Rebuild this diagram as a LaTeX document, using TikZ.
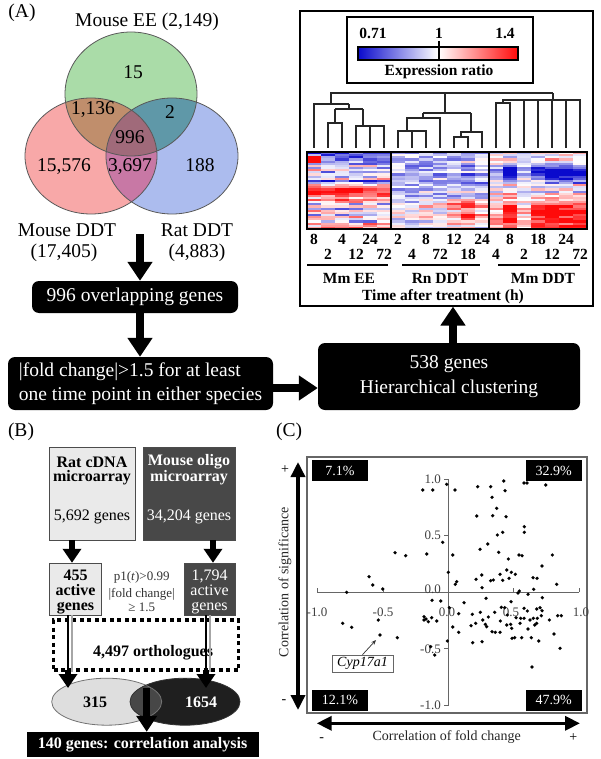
\documentclass[tikz,border=0pt]{standalone}
\usepackage{fontspec}
\setmainfont{Liberation Serif}
\usetikzlibrary{arrows.meta}
\newcommand\myfbig{\fontsize{19.5pt}{24pt}\selectfont}
\newcommand\myfbigl{\fontsize{19.5pt}{24.5pt}\selectfont}
\newcommand\myfhm{\fontsize{15.5pt}{18pt}\selectfont\bfseries}
\newcommand\myfb{\fontsize{16pt}{19pt}\selectfont}
\newcommand\myfbt{\fontsize{16pt}{15pt}\selectfont}
\newcommand\myfs{\fontsize{13pt}{15pt}\selectfont}
\newcommand\myfc{\fontsize{14pt}{17pt}\selectfont}
\definecolor{vG}{RGB}{170,220,168}
\definecolor{vR}{RGB}{248,168,168}
\definecolor{vB}{RGB}{172,188,238}
\definecolor{vGR}{RGB}{192,142,108}
\definecolor{vGB}{RGB}{95,152,168}
\definecolor{vRB}{RGB}{200,120,165}
\definecolor{vGRB}{RGB}{160,106,122}
\definecolor{hb}{RGB}{10,10,205}
\definecolor{hr}{RGB}{255,10,10}
\definecolor{mgray}{RGB}{72,72,72}
\definecolor{lgray}{RGB}{234,234,234}
\newcommand\heatpanel[5]{%
 \foreach \r in {0,...,35}{%
  \foreach \c in {0,...,#2}{%
   \pgfmathsetmacro\hv{max(-1,min(1,#3+#4[\r]*#5[\c]+0.35*rand))}%
   \pgfmathsetmacro\hp{abs(\hv)*100}%
   \ifdim\hv pt<0pt \colorlet{cellc}{hb!\hp!white}\else\colorlet{cellc}{hr!\hp!white}\fi
   \fill[cellc] (#1+14*\c,152+2.14*\r) rectangle ++(14.3,2.4);
  }}}
\begin{document}
\begin{tikzpicture}[x=1pt,y=-1pt,
  txt/.style={inner sep=0pt, outer sep=0pt},
  flowbox/.style={fill=black, text=white, rounded corners=7pt, inner sep=0pt, font=\myfbig},
  fArrow/.style={line width=8pt, -{Triangle[width=24pt,length=19pt]}},
  bArrow/.style={line width=6pt, -{Triangle[width=18pt,length=14pt]}},
  dendro/.style={line width=1.1pt, black!85},
  vline/.style={draw=black!65, line width=0.8pt},
  axisc/.style={draw=black!60, line width=0.9pt},
  ticklab/.style={inner sep=0pt, font=\myfs, text=black!75},
  dblarrow/.style={line width=3.5pt, {Triangle[width=14pt,length=15pt]}-{Triangle[width=14pt,length=15pt]}},
  qbox/.style={fill=black, text=white, inner sep=0pt, minimum width=56.6pt, minimum height=21pt, font=\myfc},
  hlab/.style={inner sep=0pt, font=\myfhm},
]
\useasboundingbox (0,0) rectangle (600,759);
\fill[white] (0,0) rectangle (600,759);

% ---------------- Venn -----------------
\def\pG{(131,94) ellipse [x radius=66, y radius=62]}
\def\pR{(91,156) ellipse [x radius=66, y radius=58]}
\def\pB{(172,156) ellipse [x radius=66, y radius=58]}
\fill[vR] \pR;
\fill[vB] \pB;
\fill[vG] \pG;
\begin{scope}\clip \pG; \fill[vGR] \pR; \end{scope}
\begin{scope}\clip \pG; \fill[vGB] \pB; \end{scope}
\begin{scope}\clip \pR; \fill[vRB] \pB; \end{scope}
\begin{scope}\clip \pG; \clip \pR; \fill[vGRB] \pB; \end{scope}
\draw[vline] \pR;
\draw[vline] \pB;
\draw[vline] \pG;

\node[txt, font=\myfbig] (lA) at (22,13) {(A)};
\node[txt, font=\myfbig] (lEE) at (147,22) {Mouse EE (2,149)};
\node[txt, font=\myfbig] (n15) at (133,72) {15};
\node[txt, font=\myfbig] (n1136) at (93,110) {1,136};
\node[txt, font=\myfbig] (n2) at (170,112) {2};
\node[txt, font=\myfbig] (n996) at (130,137) {996};
\node[txt, font=\myfbig] (n15576) at (64,167) {15,576};
\node[txt, font=\myfbig] (n3697) at (130,167) {3,697};
\node[txt, font=\myfbig] (n188) at (200,165) {188};
\node[txt, font=\myfbig] (lMD) at (67,230) {Mouse DDT};
\node[txt, font=\myfbig] (lMD2) at (64,253) {(17,405)};
\node[txt, font=\myfbig] (lRD) at (197,230) {Rat DDT};
\node[txt, font=\myfbig] (lRD2) at (197,253) {(4,883)};

% ---------------- flow (A) -----------------
\coordinate (vennbot) at (140,234);
\node[flowbox, minimum width=206pt, minimum height=32pt] (b996) at (135,297) {996 overlapping genes};
\draw[fArrow] (vennbot) -- (vennbot |- b996.north);
\node[flowbox, minimum width=265pt, minimum height=53pt, align=left, font=\myfbigl] (fold) at (140.5,383.5) {|fold change|>1.5 for at least\\one time point in either species};
\draw[fArrow] (b996.south -| vennbot) -- (fold.north -| vennbot);
\node[flowbox, minimum width=262pt, minimum height=67pt, align=center, font=\myfbigl] (b538) at (449,376.5) {538 genes\\Hierarchical clustering};
\coordinate (arry) at (0,388);
\draw[fArrow] (fold.east |- arry) -- (b538.west |- arry);

% ---------------- heatmap box -----------------
\node[draw, line width=1.2pt, minimum width=293pt, minimum height=295pt, inner sep=0pt] (hbox) at (446.5,158.5) {};
\coordinate (arrx) at (453,0);
\draw[fArrow] (b538.north -| arrx) -- (hbox.south -| arrx);

% colour key
\node[draw, line width=1.2pt, minimum width=186pt, minimum height=66pt, inner sep=0pt] (keybox) at (440,50) {};
\shade[left color=hb, right color=hr, middle color=white] (358,47) rectangle (518,60);
\draw[line width=1.2pt] (358,47) rectangle (518,60);
\draw[line width=1.2pt] (439,41) -- (439,60);
\node[hlab] (k1) at (373,33) {0.71};
\node[hlab] (k2) at (439,33) {1};
\node[hlab] (k3) at (505,33) {1.4};
\node[hlab] (k4) at (439,72) {Expression ratio};

% heat cells
\pgfmathsetseed{12}
\def\rowsEE{{-0.8,-0.6,-0.7,-0.6,-0.4,-0.5,0.0,-0.3,0.2,-0.4,0.1,-0.2,0.2,-0.8,-0.3,0.2,0.5,0.8,0.9,0.8,0.5,0.2,0.6,0.3,-0.3,0.0,-0.5,0.3,0.1,-0.4,0.3,0.0,-0.3,0.4,0.2,0.5}}
\def\colsEE{{1,1,1,1,1,1}}
\def\rowsRn{{0,0.1,-0.1,0,0.2,0,-0.1,0.1,0,0.2,-0.2,0,0.1,0,-0.3,0.1,0,0.2,0.3,0.1,0,0.2,0.4,0.6,0.9,1.0,0.7,0.5,0.8,1.1,1.0,0.6,0.5,0.7,0.4,0.3}}
\def\colsRn{{0.3,0.2,0.5,0.4,0.9,1.2,0.8}}
\def\rowsMm{{0.1,0,-0.2,0.2,0,-0.2,-0.4,-0.8,-1.2,-1.3,-1.2,-1.0,-0.8,-0.3,-0.5,0.2,-0.1,0.2,-0.2,0.3,0.0,0.3,0.1,0.5,0.6,0.8,1.0,1.1,1.2,1.0,0.9,1.1,1.0,0.8,0.9,0.7}}
\def\colsMm{{0.3,1,0.2,0.8,1.1,1,1}}
\heatpanel{307}{5}{0}{\rowsEE}{\colsEE}
\heatpanel{391}{6}{-0.3}{\rowsRn}{\colsRn}
\heatpanel{489}{6}{0}{\rowsMm}{\colsMm}
\fill[hr] (307,156) rectangle (321,163);
\draw[line width=2pt] (307,152) rectangle (391,229);
\draw[line width=2pt] (391,152) rectangle (489,229);
\draw[line width=2pt] (489,152) rectangle (587,229);

% dendrogram
\draw[dendro] (328,148) -- (328,123) -- (342,123) -- (342,148);
\draw[dendro] (335,123) -- (335,109);
\draw[dendro] (356,148) -- (356,126) -- (384,126) -- (384,148);
\draw[dendro] (370,148) -- (370,126);
\draw[dendro] (363,126) -- (363,109);
\draw[dendro] (335,109) -- (363,109);
\draw[dendro] (349,109) -- (349,104);
\draw[dendro] (314,148) -- (314,104) -- (349,104);
\draw[dendro] (331,104) -- (331,93) -- (553,93);
\draw[dendro] (398,148) -- (398,131) -- (426,131) -- (426,148);
\draw[dendro] (412,148) -- (412,131);
\draw[dendro] (407,131) -- (407,118) -- (440,118) -- (440,148);
\draw[dendro] (423,118) -- (423,113);
\draw[dendro] (454,148) -- (454,137) -- (468,137) -- (468,148);
\draw[dendro] (461,137) -- (461,132) -- (482,132) -- (482,148);
\draw[dendro] (471,132) -- (471,113);
\draw[dendro] (423,113) -- (471,113);
\draw[dendro] (445,113) -- (445,93);
\draw[dendro] (496,148) -- (496,103) -- (510,103) -- (510,148);
\draw[dendro] (503,103) -- (503,100) -- (580,100) -- (580,148);
\foreach \lx in {524,538,552,566} \draw[dendro] (\lx,100) -- (\lx,148);
\draw[dendro] (553,100) -- (553,93);

% time labels
\foreach \lx/\lt [count=\i] in {314/8,342/4,370/24,398/2,426/8,454/12,482/24,510/8,538/18,566/24}
  \node[hlab] (ta\i) at (\lx,239) {\lt};
\foreach \lx/\lt [count=\i] in {328/2,356/12,384/72,412/4,440/72,468/18,496/4,524/2,552/12,580/72}
  \node[hlab] (tb\i) at (\lx,254) {\lt};
\draw[line width=1.2pt] (307,265) -- (388,265);
\draw[line width=1.2pt] (402,265) -- (480,265);
\draw[line width=1.2pt] (498,265) -- (580,265);
\node[hlab] (g1) at (349,278) {Mm EE};
\node[hlab] (g2) at (440,278) {Rn DDT};
\node[hlab] (g3) at (543,278) {Mm DDT};
\node[hlab] (g4) at (443,297) {Time after treatment (h)};

% ---------------- panel B -----------------
\node[txt, font=\myfbig] (lB) at (21,432) {(B)};
\node[draw=black!70, fill=lgray, minimum width=86pt, minimum height=93pt, inner sep=0pt] (rat) at (92,493.5) {};
\node[draw=black!70, fill=mgray, minimum width=92pt, minimum height=93pt, inner sep=0pt] (mouse) at (189,493.5) {};
\node[txt, font=\myfb\bfseries] (rt1) at (92,462) {Rat cDNA};
\node[txt, font=\myfb\bfseries] (rt2) at (92,478) {microarray};
\node[txt, font=\myfb] (rt3) at (92,517) {5,692 genes};
\node[txt, font=\myfb\bfseries, text=white] (mt1) at (189,462) {Mouse oligo};
\node[txt, font=\myfb\bfseries, text=white] (mt2) at (189,478) {microarray};
\node[txt, font=\myfb, text=white] (mt3) at (189,517) {34,204 genes};

\node[draw=black!70, fill=lgray, minimum width=52pt, minimum height=52pt, inner sep=0pt] (a455) at (75.5,589) {};
\node[draw=black!70, fill=mgray, minimum width=51pt, minimum height=52pt, inner sep=0pt] (a1794) at (209.5,589) {};
\node[txt, font=\myfbt\bfseries, align=center] (t455) at (75.5,592) {455\\active\\genes};
\node[txt, font=\myfbt, align=center, text=white] (t1794) at (209.5,592) {1,794\\active\\genes};
\coordinate (bx1) at (72,0);
\coordinate (bx2) at (213,0);
\draw[bArrow] (rat.south -| bx1) -- (a455.north -| bx1);
\draw[bArrow] (mouse.south -| bx2) -- (a1794.north -| bx2);
\node[txt, font=\myfs, text=black!80] (mid1) at (141.7,577) {p1(\textit{t})>0.99};
\node[txt, font=\myfs, text=black!80] (mid2) at (141.7,594) {|fold change|};
\node[txt, font=\myfs, text=black!80] (mid3) at (141.7,607.5) {≥ 1.5};

\node[draw, line width=3.5pt, dash pattern=on 4pt off 3.5pt, minimum width=185pt, minimum height=50pt, inner sep=0pt] (orth) at (146,645) {};
\node[txt, font=\myfb\bfseries] (torth) at (153,653) {4,497 orthologues};

% ellipses
\def\pEL{(106.7,701.7) ellipse [x radius=55, y radius=23.5]}
\def\pER{(185,701.7) ellipse [x radius=55, y radius=23.5]}
\fill[black!13] \pEL;
\fill[black!88] \pER;
\begin{scope}\clip \pEL; \fill[black!72] \pER; \end{scope}
\draw[black!55, line width=0.8pt] \pEL;
\draw[black!80, line width=0.8pt] \pER;
\node[txt, font=\myfb\bfseries] (e315) at (95,702) {315};
\node[txt, font=\myfb\bfseries, text=white] (e1654) at (201,702) {1654};
\coordinate (elL) at (68,688);
\coordinate (elR) at (206,688);
\draw[black!35, line width=2.5pt] (a455.south -| 72,0) -- (72,672);
\draw[line width=1.3pt] (a455.south -| elL) -- (68,672);
\draw[bArrow] (68,670) -- (elL);
\draw[black!35, line width=2.5pt] (a1794.south -| 210,0) -- (210,672);
\draw[line width=1.3pt] (a1794.south -| elR) -- (206,672);
\draw[bArrow] (206,670) -- (elR);

\node[fill=black, text=white, minimum width=232pt, minimum height=25pt, inner sep=0pt, font=\myfb\bfseries] (b140) at (142.5,744.5) {140 genes: correlation analysis};
\coordinate (lens) at (146.7,688);
\draw[line width=7pt, -{Triangle[width=20pt,length=16pt]}] (lens) -- (b140.north -| lens);

% ---------------- panel C -----------------
\node[txt, font=\myfbig] (lC) at (289,432) {(C)};
\node[draw=black!60, line width=1.2pt, minimum width=280pt, minimum height=256pt, inner sep=0pt] (cframe) at (447,585) {};
\node[qbox] (q1) at (340,470.5) {7.1\%};
\node[qbox] (q2) at (553.8,470.5) {32.9\%};
\node[qbox] (q3) at (340,700) {12.1\%};
\node[qbox] (q4) at (553.8,700) {47.9\%};

\draw[axisc] (448.3,479) -- (448.3,705.5);
\draw[axisc] (317.3,592.3) -- (579.3,592.3);
\foreach \ty in {479,535.7,592.3,648.9,705.5} \draw[axisc] (444,\ty) -- (448.3,\ty);
\foreach \tx in {317.3,383.3,513.3,579.3} \draw[axisc] (\tx,588) -- (\tx,592.3);
\node[ticklab, anchor=east] (y1) at (441,479) {1.0};
\node[ticklab, anchor=east] (y2) at (441,535.7) {0.5};
\node[ticklab, anchor=east] (y3) at (441,589) {0.0};
\node[ticklab, anchor=east] (y4) at (441,648.9) {-0.5};
\node[ticklab, anchor=east] (y5) at (441,705) {-1.0};
\node[ticklab] (x1) at (317,612.3) {-1.0};
\node[ticklab] (x2) at (383,612.3) {-0.5};
\node[ticklab] (x3) at (447,612.3) {0.0};
\node[ticklab] (x4) at (511,612.3) {0.5};
\node[ticklab] (x5) at (581,612.3) {1.0};

\foreach \px/\py in {346.7/592.3,369/576.7,372.7/585,382.7/589,395/552.7,405.7/555.7,422.7/490,432.7/490,426.7/554,442.7/542.3,446.7/484.3,455/490,452.7/555,448.3/572.3,456.7/581.7,455.3/584.3,477.7/486.7,476.7/516,480/549.3,476/579.3,481.7/575,482/587.7,487.7/544,490.7/486.7,492/497.3,492.7/515.7,490.7/580.7,493.3/580,496.7/508.3,497.3/535,498.7/552.3,503.7/481,505/490.7,502.7/532.3,500/574.3,502.7/580.3,506/516.7,508.3/559,506.7/570,509/578.3,511.3/572.3,515.3/574.3,524/483,527/483,524.3/526.7,524.3/532.3,519/555,522/555.7,518/593,519.3/591,533/577.7,537/578.3,533.7/589.3,528/594.3,542/566,545.7/485,552.3/555,556.7/584.3,511/601.7,464/602.7,432/600.3,440.7/601,486/598.3,542.3/597.7}
  \fill (\px,\py) circle[radius=1.8pt];
\foreach \px/\py in {342.7/623.3,351.7/627.3,378.3/620,380/635,397.3/637.7,424/616.7,424/620,426/619,428.3/621.7,431.7/617.7,436.7/621,430.7/646.7,434.7/655,447.3/641,449.3/607.7,452.7/627,458.7/613.7,458.7/632.3,471/625.7,472.3/614.3,472.7/642.7,475.7/623.3,480.3/612.3,482.7/620,482/641.7,485.3/624.3,486.7/626.7,488.3/617,492/631.7,494.7/612.3,495.3/632.3,500/632.3,500.3/621,501.3/607.3,504.7/607.7,507.3/615,506.7/625,510.7/624.3,511.7/628.3,512/638.3,514.7/637.7,516/617.7,520/623.3,520.7/618.3,521.7/637.7,524/618.3,527.3/611,528/629,530/620,531.3/637.7,532/667,533.3/618.3,534.7/625,536.7/609,537.3/618.3,538.7/641,540/607.7,541.3/615.7,542/610.7,549.3/620,554/634,557.7/615.7,561.3/615.7,560/648.3,536.7/623.3,524/608.3}
  \fill (\px,\py) circle[radius=1.8pt];

\node[draw=black!60, fill=white, minimum width=61.6pt, minimum height=17.3pt, inner sep=0pt, font=\myfc] (cyp) at (362.5,663.5) {\textit{Cyp17a1}};
\coordinate (cyptip) at (376,640);
\draw[black!80, line width=0.7pt, -{Stealth[length=5pt,width=4pt]}] (cyp.north) -- (cyptip);

\coordinate (vtop) at (298,462);
\coordinate (vbot) at (298,710);
\draw[dblarrow] (vtop) -- (vbot);
\coordinate (hleft) at (316.7,723.3);
\coordinate (hright) at (580,723.3);
\draw[dblarrow] (hleft) -- (hright);
\node[txt, font=\myfc] (vp) at (285,470) {+};
\node[txt, font=\myfc] (vm) at (284,702) {-};
\node[txt, font=\myfc, rotate=90, text=black!85] (vlab) at (285,582) {Correlation of significance};
\node[txt, font=\myfc, text=black!85] (hlab) at (446.7,737.3) {Correlation of fold change};
\node[txt, font=\myfc] (hm) at (321.7,740) {-};
\node[txt, font=\myfc] (hp) at (573.3,738) {+};
\end{tikzpicture}
\end{document}
